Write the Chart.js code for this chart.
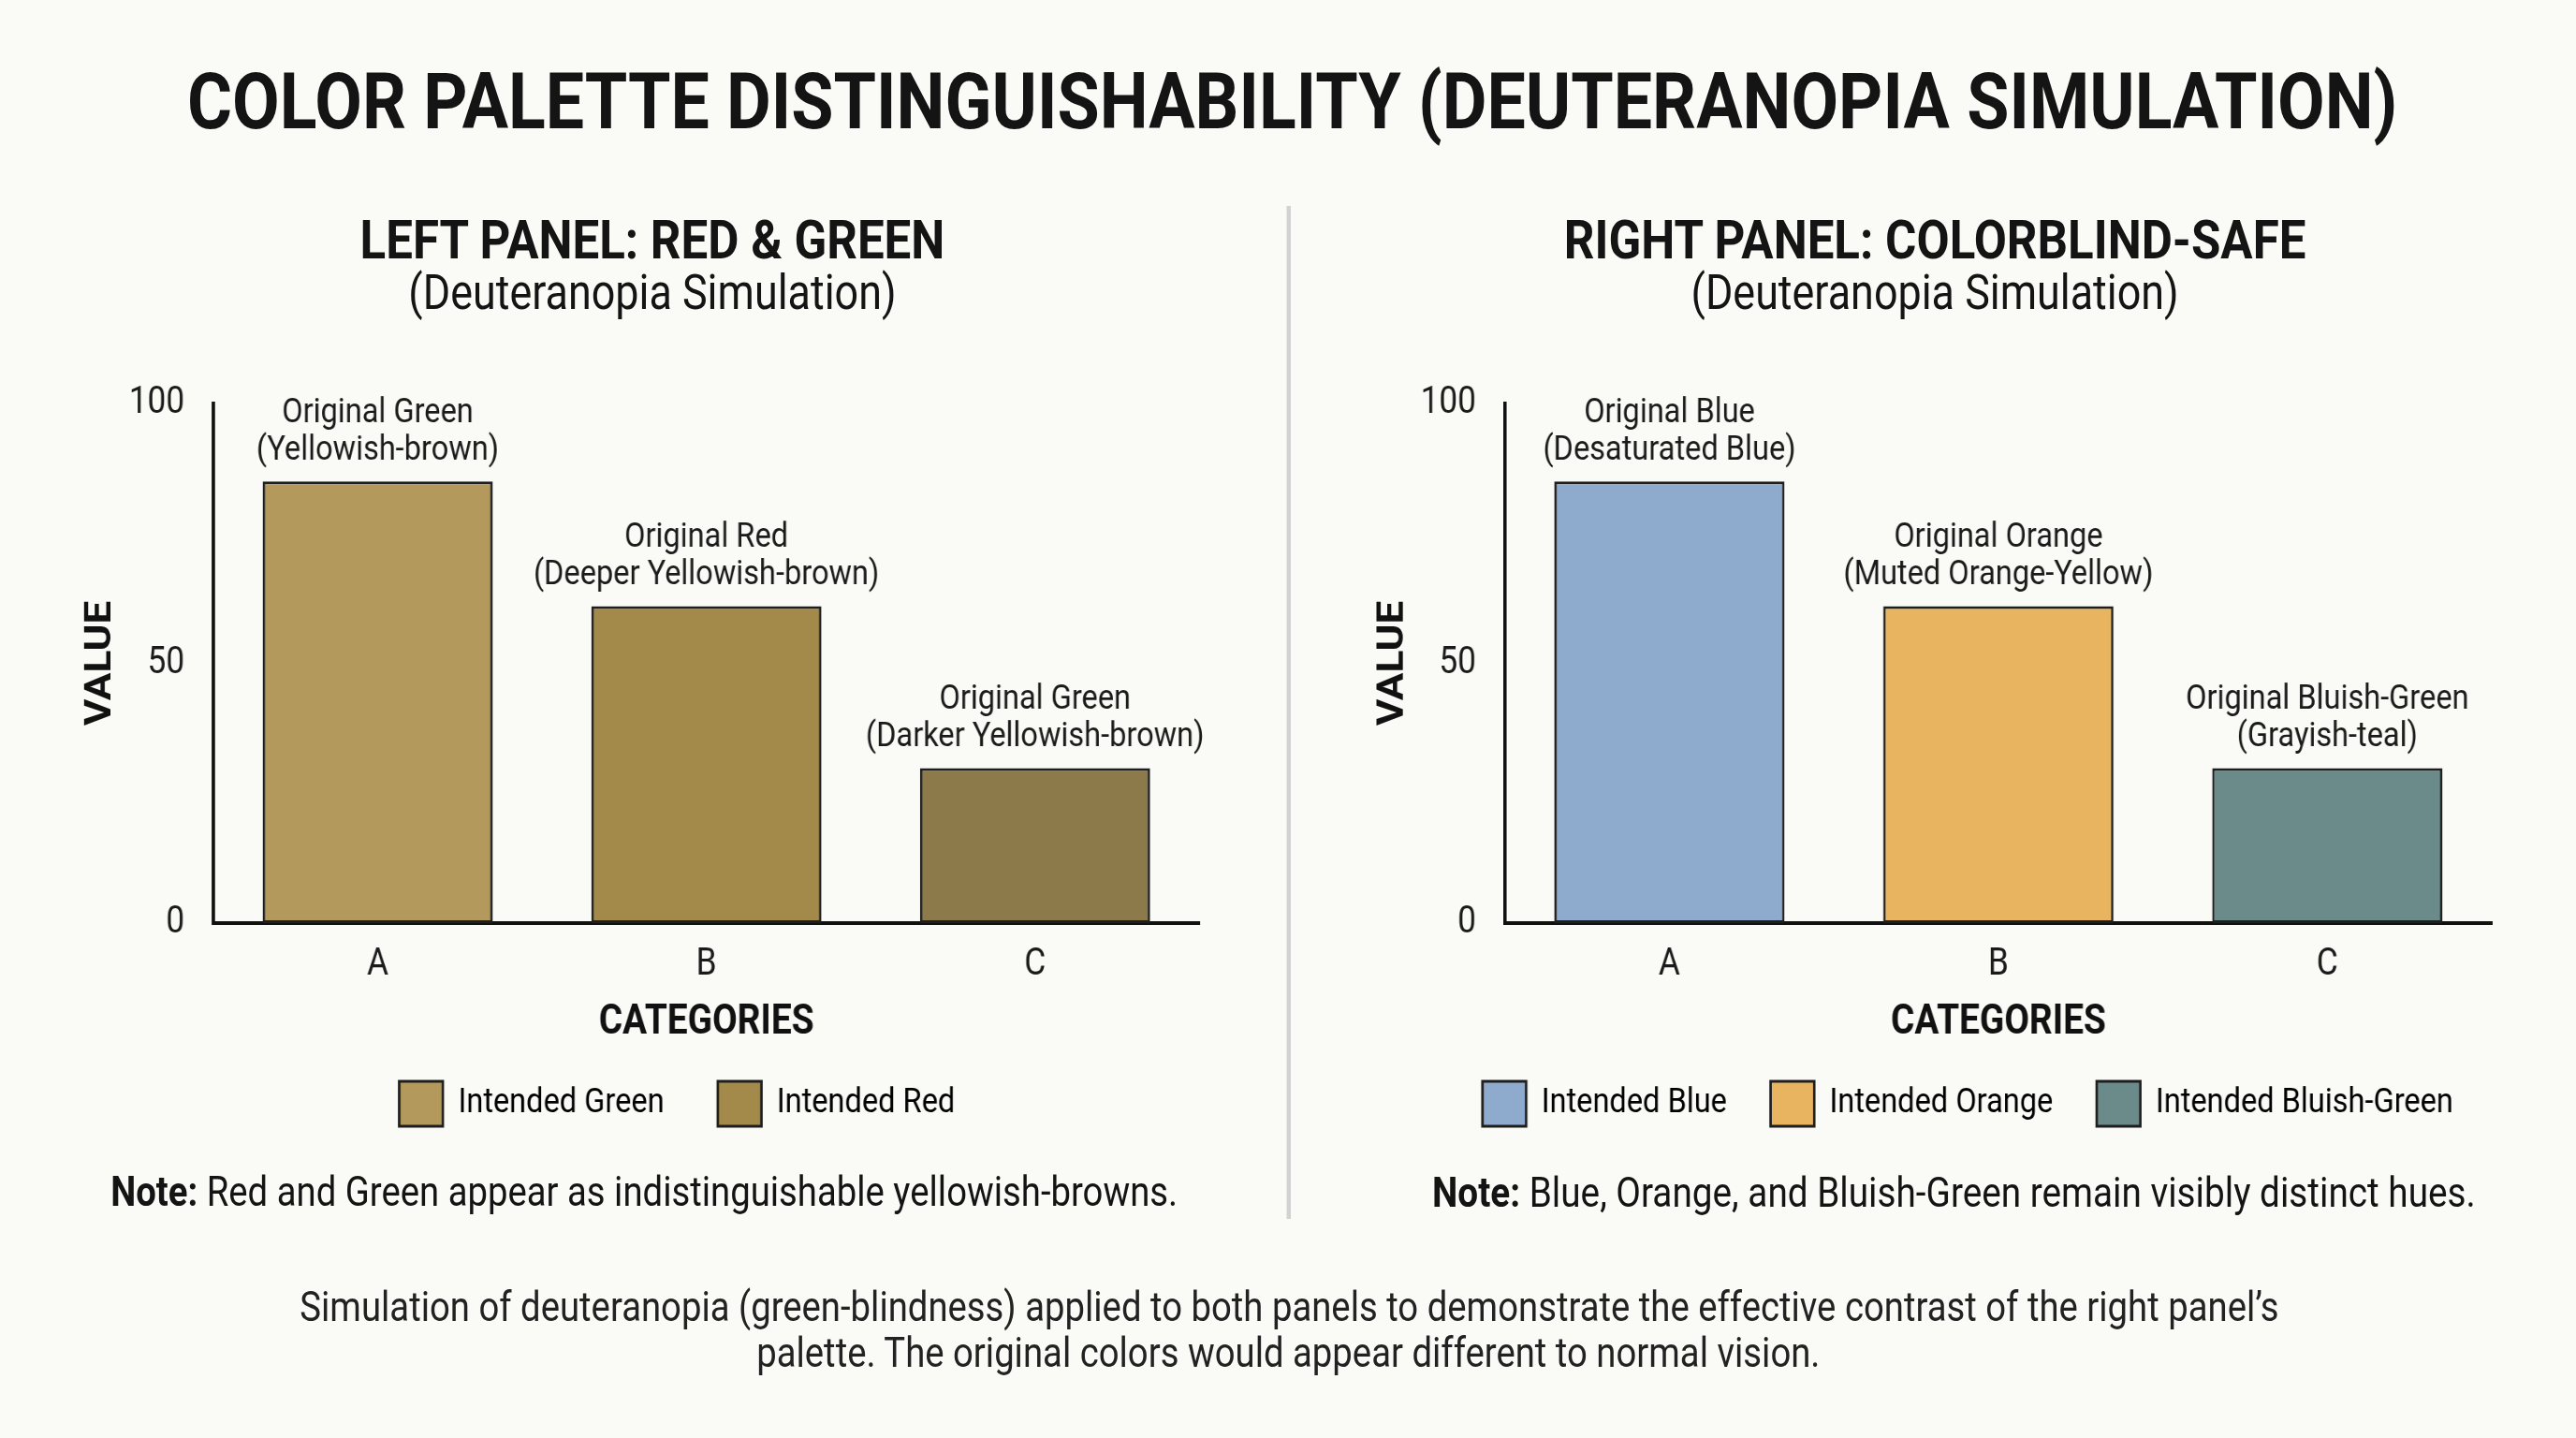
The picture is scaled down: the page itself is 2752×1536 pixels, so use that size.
<!DOCTYPE html>
<html>
<head>
<meta charset="utf-8">
<script src="https://cdn.jsdelivr.net/npm/chart.js@4.4.1/dist/chart.umd.min.js"></script>
<style>
  body { margin: 0; background: #fafaf7; overflow: hidden; width: 2752px; height: 1536px; }
  /* text in the reference is a condensed face, so the whole page is squeezed horizontally */
  #page { position: absolute; left: 0; top: 0; width: 3128px; height: 1536px;
          transform: scaleX(0.88); transform-origin: 0 0; font-family: Roboto, sans-serif; color: #141414; }
  .txt { position: absolute; width: 2400px; text-align: center; white-space: nowrap; }
  .box { position: absolute; }
</style>
</head>
<body>
<div id="page">
  <div class="txt" style="left:69px; width:3000px; top:64px; font-size:83.5px; line-height:90px; font-weight:700;">COLOR PALETTE DISTINGUISHABILITY (DEUTERANOPIA SIMULATION)</div>

  <div class="txt" style="left:-408px; top:224px; font-size:58px; line-height:64px; font-weight:700;">LEFT PANEL: RED &amp; GREEN</div>
  <div class="txt" style="left:-408px; top:285px; font-size:51px; line-height:56px;">(Deuteranopia Simulation)</div>
  <div class="txt" style="left:1149px; top:224px; font-size:58px; line-height:64px; font-weight:700;">RIGHT PANEL: COLORBLIND-SAFE</div>
  <div class="txt" style="left:1149px; top:285px; font-size:51px; line-height:56px;">(Deuteranopia Simulation)</div>

  <div style="position:absolute; left:1562px; top:220px; width:5px; height:1082px; background:#d2d2d2;"></div>

  <div class="box" style="left:0px; top:380px; width:1644px; height:843px;"><canvas id="leftChart"></canvas></div>
  <div class="box" style="left:1650px; top:380px; width:1478px; height:843px;"><canvas id="rightChart"></canvas></div>

  <div class="txt" style="left:-418px; top:1249px; font-size:43.5px; line-height:50px;"><b>Note:</b> Red and Green appear as indistinguishable yellowish-browns.</div>
  <div class="txt" style="left:1172px; top:1249px; font-size:44px; line-height:50px;"><b>Note:</b> Blue, Orange, and Bluish-Green remain visibly distinct hues.</div>

  <div class="txt" style="left:364px; top:1372px; font-size:43.5px; line-height:49px; color:#222;">Simulation of deuteranopia (green-blindness) applied to both panels to demonstrate the effective contrast of the right panel’s<br>palette. The original colors would appear different to normal vision.</div>
</div>

<script>
// data
const categories = ['A', 'B', 'C'];

const leftValues = [85, 61, 29.8];
const leftColors = ['#b39a5c', '#a38a4a', '#8c7a4a'];
const leftBarLabels = [
	['Original Green', '(Yellowish-brown)'],
	['Original Red', '(Deeper Yellowish-brown)'],
	['Original Green', '(Darker Yellowish-brown)']
];
const leftLegendNames = ['Intended Green', 'Intended Red'];
const leftLegendColors = ['#b39a5c', '#a38a4a'];

const rightValues = [85, 61, 29.8];
const rightColors = ['#8eaacd', '#e8b460', '#6b8b8a'];
const rightBarLabels = [
	['Original Blue', '(Desaturated Blue)'],
	['Original Orange', '(Muted Orange-Yellow)'],
	['Original Bluish-Green', '(Grayish-teal)']
];
const rightLegendNames = ['Intended Blue', 'Intended Orange', 'Intended Bluish-Green'];
const rightLegendColors = ['#8eaacd', '#e8b460', '#6b8b8a'];

const yTicks = [0, 50, 100];

Chart.defaults.font.family = 'Roboto';
Chart.defaults.color = '#1a1a1a';

// two-line labels above every bar
const barLabelPlugin = {
	id: 'barLabels',
	afterDatasetsDraw: function(chart, args, opts)
	{
		const ctx = chart.ctx;
		const meta = chart.getDatasetMeta(0);
		ctx.save();
		ctx.font = '37px Roboto';
		ctx.fillStyle = '#1a1a1a';
		ctx.textAlign = 'center';
		ctx.textBaseline = 'middle';
		meta.data.forEach(function(bar, i) {
			const lines = opts.lines[i];
			ctx.fillText(lines[0], bar.x, bar.y - 73);
			ctx.fillText(lines[1], bar.x, bar.y - 33);
		});
		ctx.restore();
	}
};

function buildChart(canvasId, values, colors, barLabels, legendNames, legendColors, yWidth, yTitlePad, rightGap, legendPad)
{
	// a smaller legend gap shrinks the legend box, give that height back to the x axis
	const extra = 65 - legendPad;
	return new Chart(document.getElementById(canvasId), {
		type: 'bar',
		data: {
			labels: categories,
			datasets: [{
				data: values,
				backgroundColor: colors,
				borderColor: '#1e1e1e',
				borderWidth: 3,
				borderSkipped: false,
				categoryPercentage: 0.70,
				barPercentage: 1.0
			}]
		},
		plugins: [barLabelPlugin],
		options: {
			responsive: true,
			maintainAspectRatio: false,
			animation: false,
			devicePixelRatio: 1,
			layout: { padding: { top: 46, bottom: 10, left: 0, right: 0 } },
			plugins: {
				title: { display: false },
				tooltip: { enabled: false },
				barLabels: { lines: barLabels },
				legend: {
					position: 'bottom',
					onClick: null,
					labels: {
						boxWidth: 53,
						boxHeight: 48,
						padding: legendPad,
						color: '#1a1a1a',
						font: { size: 37 },
						generateLabels: function() {
							return legendNames.map(function(name, i) {
								return {
									text: name,
									fillStyle: legendColors[i],
									strokeStyle: '#1e1e1e',
									lineWidth: 3,
									hidden: false,
									datasetIndex: 0
								};
							});
						}
					}
				}
			},
			scales: {
				x: {
					grid: { display: false },
					border: { display: true, color: '#111', width: 4 },
					ticks: { color: '#1a1a1a', font: { size: 40 }, padding: 13 },
					title: { display: true, text: 'CATEGORIES', color: '#111',
						font: { size: 44, weight: 'bold' }, padding: { top: 0, bottom: -29 + extra } },
					afterFit: function(scale) { scale.height = 104 + extra; }
				},
				y: {
					min: 0,
					max: 100,
					afterBuildTicks: function(scale) { scale.ticks = yTicks.map(function(v) { return { value: v }; }); },
					grid: { display: false },
					border: { display: true, color: '#111', width: 4 },
					ticks: { color: '#1a1a1a', font: { size: 40 }, padding: 27 },
					title: { display: true, text: 'VALUE', color: '#111',
						font: { size: 44, weight: 'bold' }, padding: { top: yTitlePad, bottom: 0 } },
					afterFit: function(scale) { scale.width = yWidth; }
				},
				gap: {
					position: 'right',
					min: 0,
					max: 1,
					grid: { display: false },
					border: { display: false },
					ticks: { display: false },
					afterFit: function(scale) { scale.width = rightGap; }
				}
			}
		}
	});
}

buildChart('leftChart', leftValues, leftColors, leftBarLabels, leftLegendNames, leftLegendColors, 259, 97, 188, 65);
buildChart('rightChart', rightValues, rightColors, rightBarLabels, rightLegendNames, rightLegendColors, 177, 16, 103, 53);
</script>
</body>
</html>
